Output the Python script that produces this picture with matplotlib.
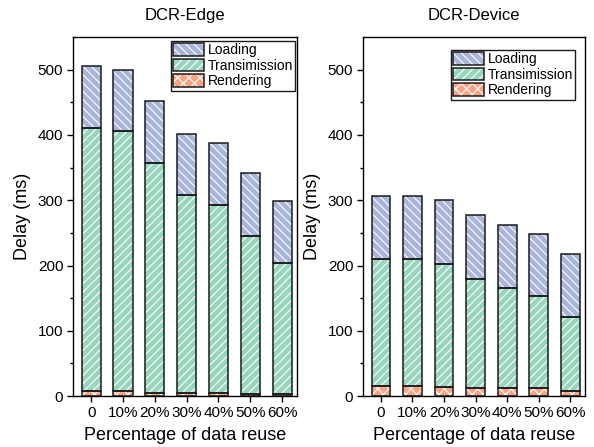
import matplotlib
matplotlib.use('Agg')
import matplotlib.pyplot as plt
import numpy as np
from matplotlib.patches import Patch

plt.rcParams['font.family'] = ['Liberation Sans', 'DejaVu Sans']
plt.rcParams['hatch.linewidth'] = 0.8

reuse = ['0', '10%', '20%', '30%', '40%', '50%', '60%']

edge_render = [7, 7, 5, 5, 5, 3, 3]
edge_trans = [403, 399, 352, 303, 288, 242, 201]
edge_load = [96, 93, 95, 94, 94, 97, 95]

dev_render = [15, 15, 14, 13, 12, 12, 8]
dev_trans = [195, 195, 188, 166, 153, 141, 113]
dev_load = [97, 97, 98, 98, 97, 95, 96]

c_load = '#a9b5da'
c_trans = '#97d6bd'
c_render = '#f6a483'

fig = plt.figure(figsize=(5.94, 4.47), dpi=100)
ax1 = fig.add_axes([0.1229, 0.114, 0.3771, 0.803])
ax2 = fig.add_axes([0.6111, 0.114, 0.3737, 0.803])


def stacked(ax, render, trans, load, title, leg_anchor):
    x = np.arange(len(reuse))
    w = 0.6
    render = np.array(render)
    trans = np.array(trans)
    load = np.array(load)
    parts = [(render, 0, c_render, 'xxx'),
             (trans, render, c_trans, '////'),
             (load, render + trans, c_load, '\\\\\\\\')]
    for vals, bottom, col, hatch in parts:
        ax.bar(x, vals, w, bottom=bottom, color=col, edgecolor='white',
               hatch=hatch, linewidth=0, zorder=2)
        ax.bar(x, vals, w, bottom=bottom, facecolor='none', edgecolor='#1a1a1a',
               linewidth=1.1, zorder=3)
    ax.set_xlim(-0.57, 6.47)
    ax.set_ylim(0, 550)
    ax.set_xticks(x)
    ax.set_xticklabels(reuse)
    ax.set_yticks([0, 100, 200, 300, 400, 500])
    ax.set_yticks(np.arange(50, 550, 100), minor=True)
    ax.tick_params(axis='both', which='major', direction='out', length=4,
                   width=1, labelsize=11, pad=3)
    ax.tick_params(axis='y', which='minor', direction='out', length=2.5, width=1)
    for s in ax.spines.values():
        s.set_linewidth(1)
    ax.set_title(title, fontsize=12, pad=12)
    ax.set_xlabel('Percentage of data reuse', fontsize=13, labelpad=5)
    ax.set_ylabel('Delay (ms)', fontsize=13, labelpad=5)

    handles = []
    for col, hatch in [(c_load, '\\\\\\\\'), (c_trans, '////'), (c_render, 'xxx')]:
        h1 = Patch(facecolor=col, edgecolor='white', hatch=hatch, linewidth=0)
        h2 = Patch(facecolor='none', edgecolor='#1a1a1a', linewidth=1.1)
        handles.append((h1, h2))
    leg = ax.legend(handles, ['Loading', 'Transimission', 'Rendering'],
                    loc='upper right', bbox_to_anchor=leg_anchor,
                    fontsize=10, frameon=True, fancybox=False,
                    edgecolor='#1a1a1a', framealpha=1, borderpad=0.15,
                    labelspacing=0.12, handlelength=2.2, handleheight=1.0,
                    handletextpad=0.25, borderaxespad=0)
    leg.get_frame().set_linewidth(1)


stacked(ax1, edge_render, edge_trans, edge_load, 'DCR-Edge', (0.991, 0.989))
stacked(ax2, dev_render, dev_trans, dev_load, 'DCR-Device', (0.955, 0.964))

fig.savefig('out.png', dpi=100)
